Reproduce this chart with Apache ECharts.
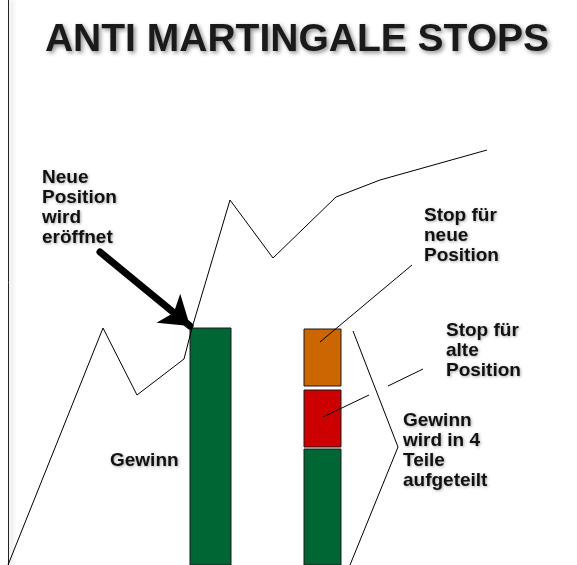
<!DOCTYPE html>
<html>
<head>
<meta charset="utf-8">
<script src="https://cdn.jsdelivr.net/npm/echarts@6/dist/echarts.min.js"></script>
<style>
  html, body { margin: 0; padding: 0; background: #fff; }
  #chart { width: 577px; height: 565px; }
</style>
</head>
<body>
<div id="chart"></div>
<script>
// price path (time, price)
const priceX = [0, 95, 129, 176, 184, 222, 265, 328, 372, 479];
const priceY = [0, 237, 170, 206, 237, 365, 307, 368, 385, 415];

// position bars: [left, right, low, high, colour]
const barLeft  = [182, 296, 296, 296];
const barRight = [223, 333, 333, 333];
const barLow   = [0, 0, 118, 179];
const barHigh  = [237, 116, 175, 236];
const barColor = ['#006633', '#006633', '#cc0000', '#cc6600'];

// leader lines
const leaders = [
  [[404, 300], [312, 223]],
  [[415, 196], [380, 179]],
  [[361, 170], [315, 148]],
  [[345, 234], [390, 118], [342, 0]]
];
const arrowLine = [[92, 313], [182, 239]];

const titleText = 'ANTI MARTINGALE STOPS';
const notes = [
  'Neue\nPosition\nwird\neröffnet',
  'Gewinn',
  'Stop für\nneue\nPosition',
  'Stop für\nalte\nPosition',
  'Gewinn\nwird in 4\nTeile\naufgeteilt'
];

const chart = echarts.init(document.getElementById('chart'));

const noteStyle = {
  font: 'bold 19px "Liberation Sans", Arial, sans-serif',
  fill: '#111',
  lineHeight: 20,
  textShadowColor: 'rgba(0,0,0,0.35)',
  textShadowBlur: 3,
  textShadowOffsetX: 1,
  textShadowOffsetY: 1
};
const notePos = [[42, 168], [110, 451], [424, 206], [446, 321], [403, 411]];

const option = {
  animation: false,
  grid: { left: 8, right: 0, top: 0, bottom: 0, containLabel: false },
  xAxis: { type: 'value', min: 0, max: 569, show: false },
  yAxis: {
    type: 'value', min: 0, max: 565,
    axisLine: {
      show: true, onZero: false,
      lineStyle: { color: '#222', width: 1, shadowColor: 'rgba(0,0,0,0.3)', shadowBlur: 4, shadowOffsetX: 3 }
    },
    axisTick: { show: false },
    axisLabel: { show: false },
    splitLine: { show: false }
  },
  graphic: [
    {
      type: 'text', x: 297, y: 40,
      style: {
        text: titleText,
        align: 'center',
        verticalAlign: 'middle',
        font: 'bold 39px "Liberation Sans", Arial, sans-serif',
        fill: '#1a1a1a',
        textShadowColor: 'rgba(0,0,0,0.45)',
        textShadowBlur: 4,
        textShadowOffsetX: 2,
        textShadowOffsetY: 2
      }
    }
  ].concat(notes.map((t, i) => ({
    type: 'text', x: notePos[i][0], y: notePos[i][1],
    style: Object.assign({ text: t }, noteStyle)
  }))),
  series: [
    {
      type: 'custom',
      renderItem: (params, api) => {
        const p0 = api.coord([api.value(0), api.value(3)]);
        const p1 = api.coord([api.value(1), api.value(2)]);
        return {
          type: 'rect',
          shape: { x: p0[0], y: p0[1], width: p1[0] - p0[0], height: p1[1] - p0[1] },
          style: { fill: barColor[params.dataIndex], stroke: '#1a1a1a', lineWidth: 1 }
        };
      },
      data: barLeft.map((l, i) => [l, barRight[i], barLow[i], barHigh[i]]),
      z: 1
    },
    {
      type: 'line',
      data: priceX.map((x, i) => [x, priceY[i]]),
      showSymbol: false,
      lineStyle: { color: '#000', width: 1 },
      z: 2
    },
    {
      type: 'lines',
      coordinateSystem: 'cartesian2d',
      polyline: true,
      data: leaders.map(c => ({ coords: c })),
      lineStyle: { color: '#000', width: 1, opacity: 1 },
      z: 3
    },
    {
      type: 'lines',
      coordinateSystem: 'cartesian2d',
      data: [{ coords: arrowLine }],
      symbol: ['none', 'arrow'],
      symbolSize: [32, 28],
      lineStyle: { color: '#000', width: 7, opacity: 1, cap: 'round' },
      z: 4
    }
  ]
};

chart.setOption(option);
</script>
</body>
</html>
